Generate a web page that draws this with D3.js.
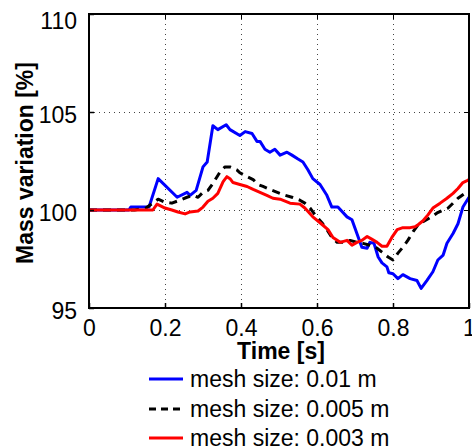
<!DOCTYPE html>
<html>
<head>
<meta charset="utf-8">
<script src="https://cdn.jsdelivr.net/npm/d3@7"></script>
<style>
  body { margin: 0; background: #fff; }
  svg { display: block; }
</style>
</head>
<body>
<div id="chart"></div>
<script>
// Data: time [s] and mass variation [%]
var blueT = [0, 0.105, 0.11, 0.158, 0.182, 0.232, 0.258, 0.266, 0.282, 0.300, 0.311, 0.326, 0.339, 0.361, 0.371,
  0.397, 0.411, 0.429, 0.442, 0.450, 0.463, 0.476, 0.489, 0.503, 0.521, 0.534, 0.550, 0.563, 0.576, 0.589,
  0.608, 0.626, 0.639, 0.655, 0.679, 0.692, 0.705, 0.718, 0.732, 0.739, 0.750, 0.761, 0.771, 0.784, 0.789,
  0.800, 0.813, 0.826, 0.845, 0.863, 0.874, 0.889, 0.905, 0.918, 0.932, 0.942, 0.958, 0.971, 0.984, 1.0];
var blueV = [100, 100, 100.15, 100.15, 101.6, 100.65, 100.9, 100.75, 101.0, 102.2, 102.45, 104.3, 104.1, 104.35, 104.1,
  103.8, 104.0, 103.9, 103.5, 103.5, 103.1, 102.95, 103.1, 102.8, 102.95, 102.8, 102.6, 102.45, 102.05, 101.6,
  101.3, 100.75, 100.15, 100.15, 99.65, 99.5, 98.8, 98.1, 98.05, 98.35, 98.3, 97.6, 97.3, 97.1, 96.8,
  96.75, 96.5, 96.7, 96.5, 96.4, 96.0, 96.4, 96.85, 97.45, 97.7, 98.3, 98.8, 99.3, 100.15, 100.65];

var blackT = [0, 0.12, 0.15, 0.182, 0.200, 0.218, 0.232, 0.258, 0.274, 0.287, 0.300, 0.313, 0.324, 0.337, 0.345,
  0.358, 0.371, 0.389, 0.397, 0.416, 0.432, 0.445, 0.458, 0.482, 0.516, 0.534, 0.555, 0.568, 0.582, 0.595,
  0.613, 0.626, 0.639, 0.653, 0.674, 0.687, 0.705, 0.721, 0.739, 0.758, 0.771, 0.787, 0.800, 0.813, 0.826,
  0.839, 0.853, 0.866, 0.879, 0.897, 0.916, 0.932, 0.945, 0.958, 0.971, 0.989, 1.0];
var blackV = [100, 100, 100.1, 100.55, 100.4, 100.35, 100.45, 100.65, 100.75, 100.65, 100.9, 101.0, 101.3, 101.7, 101.95,
  102.2, 102.2, 102.05, 101.9, 101.7, 101.55, 101.3, 101.2, 101.0, 100.75, 100.65, 100.5, 100.35, 100.1, 99.75,
  99.35, 99.0, 98.6, 98.35, 98.35, 98.45, 98.35, 98.3, 98.2, 98.05, 97.85, 97.6, 97.45, 97.8, 98.1,
  98.45, 98.9, 99.25, 99.4, 99.6, 99.85, 100.0, 100.1, 100.35, 100.6, 100.85, 100.9];

var redT = [0, 0.168, 0.179, 0.200, 0.218, 0.234, 0.253, 0.266, 0.287, 0.300, 0.313, 0.326, 0.339, 0.353, 0.363,
  0.371, 0.379, 0.397, 0.416, 0.432, 0.450, 0.468, 0.484, 0.503, 0.529, 0.555, 0.568, 0.589, 0.608, 0.629,
  0.642, 0.661, 0.679, 0.692, 0.705, 0.718, 0.732, 0.745, 0.758, 0.771, 0.784, 0.797, 0.811, 0.826, 0.845,
  0.858, 0.866, 0.879, 0.892, 0.905, 0.924, 0.942, 0.958, 0.971, 0.984, 0.995, 1.0];
var redV = [100, 100, 100.3, 100.1, 100.0, 99.9, 99.8, 99.9, 99.95, 100.15, 100.45, 100.6, 100.85, 101.45, 101.7,
  101.6, 101.4, 101.3, 101.2, 101.05, 100.9, 100.75, 100.6, 100.55, 100.35, 100.3, 100.1, 99.65, 99.35, 99.0,
  98.6, 98.35, 98.45, 98.2, 98.35, 98.45, 98.65, 98.5, 98.35, 98.15, 98.15, 98.6, 99.0, 99.1, 99.1,
  99.15, 99.25, 99.45, 99.75, 100.1, 100.35, 100.6, 100.85, 101.1, 101.4, 101.5, 101.55];

var xTicks = [0, 0.2, 0.4, 0.6, 0.8, 1];
var xTickLabels = ["0", "0.2", "0.4", "0.6", "0.8", "1"];
var yTicks = [95, 100, 105, 110];
var seriesNames = ["mesh size: 0.01 m", "mesh size: 0.005 m", "mesh size: 0.003 m"];

// Dimensions (plot box edges)
var w = 472, h = 448;
var pLeft = 89, pRight = 469, pTop = 14, pBottom = 308;

var xScale = d3.scaleLinear().domain([0, 1]).range([pLeft, pRight]);
var yScale = d3.scaleLinear().domain([95, 110]).range([pBottom, pTop]);

var svg = d3.select("#chart").append("svg")
  .attr("width", w)
  .attr("height", h)
  .style("font-family", "Arial, 'Liberation Sans', Helvetica, sans-serif");

// Dotted grid at inner ticks
var grid = svg.append("g").attr("stroke", "#444").attr("stroke-width", 1).attr("stroke-dasharray", "1,4");
grid.selectAll("line.vx")
  .data(xTicks.filter(d => d > 0 && d < 1))
  .enter().append("line")
  .attr("x1", d => Math.round(xScale(d)) + 0.5).attr("x2", d => Math.round(xScale(d)) + 0.5)
  .attr("y1", pTop).attr("y2", pBottom);
grid.selectAll("line.hy")
  .data(yTicks.filter(d => d > 95 && d < 110))
  .enter().append("line")
  .attr("y1", d => Math.round(yScale(d)) + 0.5).attr("y2", d => Math.round(yScale(d)) + 0.5)
  .attr("x1", pLeft).attr("x2", pRight);

// Curves
svg.append("clipPath").attr("id", "plotclip")
  .append("rect").attr("x", pLeft).attr("y", pTop).attr("width", pRight - pLeft).attr("height", pBottom - pTop);

var line = d3.line().x(d => xScale(d[0])).y(d => yScale(d[1]));
var series = [
  { t: blueT, v: blueV, color: "#0000ff", dash: null },
  { t: blackT, v: blackV, color: "#000000", dash: "8,6" },
  { t: redT, v: redV, color: "#ff0000", dash: null }
];

var curves = svg.append("g").attr("clip-path", "url(#plotclip)");
series.forEach(function (s) {
  curves.append("path")
    .datum(s.t.map((t, i) => [t, s.v[i]]))
    .attr("d", line)
    .attr("fill", "none")
    .attr("stroke", s.color)
    .attr("stroke-width", 3)
    .attr("stroke-linejoin", "round")
    .attr("stroke-dasharray", s.dash);
});

// Axes (MATLAB style: ticks inside, box on all sides)
var xAxis = d3.axisBottom(xScale).tickValues(xTicks).tickSizeInner(-5).tickSizeOuter(0)
  .tickFormat((d, i) => xTickLabels[i]).tickPadding(12);
var gx = svg.append("g").attr("transform", "translate(0," + pBottom + ")").call(xAxis);
gx.select(".domain").remove();
gx.selectAll("text").attr("font-size", 23).attr("fill", "#000").attr("font-family", null);
gx.selectAll("line").attr("stroke-width", 1.5);

var gxt = svg.append("g").attr("transform", "translate(0," + pTop + ")")
  .call(d3.axisTop(xScale).tickValues(xTicks).tickSizeInner(-5).tickSizeOuter(0).tickFormat(""));
gxt.select(".domain").remove();

var yAxis = d3.axisLeft(yScale).tickValues(yTicks).tickSizeInner(-5).tickSizeOuter(0).tickPadding(12);
var gy = svg.append("g").attr("transform", "translate(" + pLeft + ",0)").call(yAxis);
gy.select(".domain").remove();
gy.selectAll("text").attr("font-size", 23).attr("fill", "#000").attr("font-family", null)
  .attr("dy", d => d === 110 ? "0.65em" : "0.45em");
gy.selectAll("line").attr("stroke-width", 1.5);

var gyr = svg.append("g").attr("transform", "translate(" + pRight + ",0)")
  .call(d3.axisRight(yScale).tickValues(yTicks).tickSizeInner(-5).tickSizeOuter(0).tickFormat(""));
gyr.select(".domain").remove();

svg.append("rect")
  .attr("x", pLeft).attr("y", pTop)
  .attr("width", pRight - pLeft).attr("height", pBottom - pTop)
  .attr("fill", "none").attr("stroke", "#000").attr("stroke-width", 2);

// Axis titles
svg.append("text")
  .attr("x", (pLeft + pRight) / 2 + 2).attr("y", 359)
  .attr("text-anchor", "middle")
  .attr("font-size", 23).attr("font-weight", "bold")
  .text("Time [s]");

svg.append("text")
  .attr("transform", "translate(33," + ((pTop + pBottom) / 2 + 2) + ") rotate(-90)")
  .attr("text-anchor", "middle")
  .attr("font-size", 23).attr("font-weight", "bold")
  .text("Mass variation [%]");

// Legend
var legend = svg.append("g");
var legendY = [379, 409, 438];
series.forEach(function (s, i) {
  legend.append("line")
    .attr("x1", 149).attr("x2", 183)
    .attr("y1", legendY[i]).attr("y2", legendY[i])
    .attr("stroke", s.color).attr("stroke-width", 3)
    .attr("stroke-dasharray", s.dash ? "7,5" : null);
  legend.append("text")
    .attr("x", 190).attr("y", legendY[i])
    .attr("dy", "0.36em")
    .attr("font-size", 23)
    .text(seriesNames[i]);
});
</script>
</body>
</html>
